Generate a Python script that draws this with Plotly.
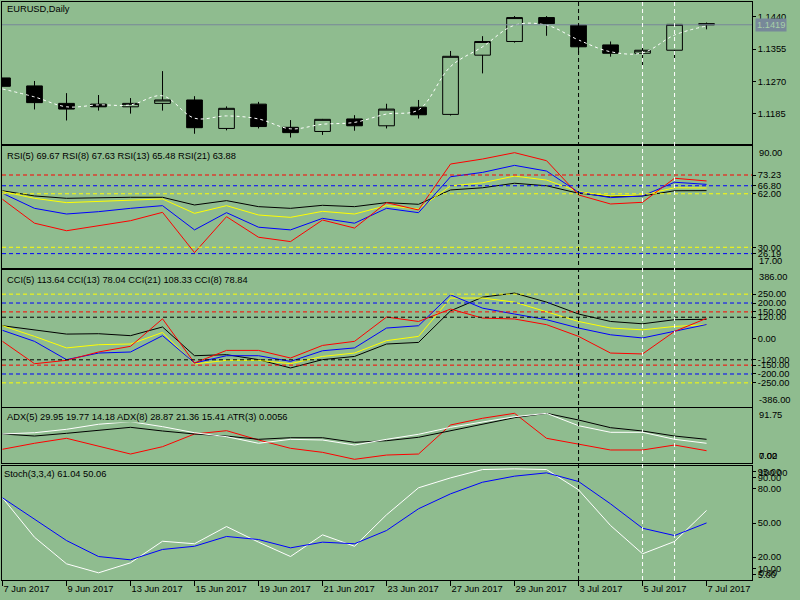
import datetime as dt
import plotly.graph_objects as go
from plotly.subplots import make_subplots

BG = "#8FBC8F"
FONT = "Liberation Sans"

# daily bars
dates = ["2017-06-07", "2017-06-08", "2017-06-09", "2017-06-12", "2017-06-13", "2017-06-14",
         "2017-06-15", "2017-06-16", "2017-06-19", "2017-06-20", "2017-06-21", "2017-06-22",
         "2017-06-23", "2017-06-26", "2017-06-27", "2017-06-28", "2017-06-29", "2017-06-30",
         "2017-07-03", "2017-07-04", "2017-07-05", "2017-07-06", "2017-07-07"]

open_ = [1.1279, 1.1258, 1.1212, 1.1210, 1.1203, 1.1212, 1.1221, 1.1146, 1.1210, 1.1149, 1.1138, 1.1171,
         1.1153, 1.1202, 1.1183, 1.1339, 1.1375, 1.1438, 1.1418, 1.1366, 1.1344, 1.1352, 1.1422]
high = [1.1279, 1.1271, 1.1239, 1.1234, 1.1226, 1.1297, 1.1231, 1.1204, 1.1216, 1.1168, 1.1171, 1.1181,
        1.1211, 1.1221, 1.1350, 1.1389, 1.1442, 1.1442, 1.1419, 1.1375, 1.1367, 1.1423, 1.1425]
low = [1.1257, 1.1196, 1.1167, 1.1193, 1.1185, 1.1193, 1.1132, 1.1141, 1.1146, 1.1122, 1.1129, 1.1140,
       1.1146, 1.1172, 1.1180, 1.1291, 1.1372, 1.1390, 1.1344, 1.1335, 1.1311, 1.1326, 1.1407]
close = [1.1257, 1.1214, 1.1197, 1.1203, 1.1212, 1.1221, 1.1148, 1.1199, 1.1151, 1.1135, 1.1170, 1.1153,
         1.1197, 1.1182, 1.1336, 1.1375, 1.1438, 1.1422, 1.1361, 1.1344, 1.1352, 1.1420, 1.1419]
ma = [1.1250, 1.1229, 1.1203, 1.1208, 1.1208, 1.1232, 1.1173, 1.1179, 1.1171, 1.1145, 1.1157, 1.1162,
      1.1184, 1.1195, 1.1309, 1.1361, 1.1418, 1.1418, 1.1379, 1.1348, 1.1345, 1.1392, 1.1416]
last_price = 1.1419

# RSI
rsi5 = [58.7, 44.4, 39.9, 42.7, 45.9, 50.9, 26.8, 48.3, 36.0, 33.4, 46.3, 41.5,
        56.7, 52.3, 79.8, 82.8, 86.6, 81.8, 61.3, 55.9, 56.9, 71.3, 69.67]
rsi8 = [62.3, 53.3, 49.9, 51.3, 53.3, 54.9, 40.4, 50.7, 42.0, 40.4, 47.3, 44.4,
        53.3, 50.7, 72.2, 74.8, 79.0, 75.6, 62.9, 59.7, 60.7, 68.9, 67.63]
rsi13 = [63.3, 59.3, 56.7, 57.5, 58.3, 58.9, 50.3, 54.9, 49.3, 47.9, 51.5, 49.9,
         54.9, 52.9, 66.7, 68.6, 72.6, 70.2, 63.3, 60.7, 61.3, 65.6, 65.48]
rsi21 = [63.8, 60.7, 59.3, 59.7, 59.9, 59.9, 55.3, 57.9, 54.3, 53.3, 55.1, 54.3,
         56.7, 55.7, 64.3, 65.6, 68.3, 66.8, 62.3, 60.3, 60.7, 63.8, 63.88]
rsi_levels = [(73.23, "red"), (66.80, "blue"), (62.00, "yellow"), (30.00, "yellow"), (26.19, "blue")]

# CCI
cci5 = [-16, -142, -123, -76, -44, 111, -138, -67, -67, -110, -39, -16,
        121, 96, 166, 115, 110, 78, 12, -82, -87, 40, 113.64]
cci8 = [46, -16, -119, -82, -76, 16, -138, -97, -97, -129, -69, -53,
        59, 72, 246, 171, 138, 106, 59, 21, 3, 40, 78.84]
cci13 = [72, 12, -53, -35, -31, 34, -143, -123, -123, -142, -101, -82,
         -12, 12, 228, 228, 205, 152, 96, 59, 49, 68, 78.04]
cci21 = [72, 49, 25, 27, 16, 65, -97, -91, -119, -166, -119, -101,
         -31, -22, 156, 233, 256, 205, 138, 96, 83, 106, 108.33]
cci_levels = [(250, "yellow"), (200, "blue"), (150, "red"), (120, "black"),
              (-120, "black"), (-150, "red"), (-200, "blue"), (-250, "yellow")]

# ADX / ATR
adx_black = [48.4, 45.0, 49.5, 53.9, 59.5, 53.4, 48.4, 45.0, 39.5, 42.2, 42.2, 34.5,
             37.2, 42.9, 53.9, 65.1, 75.6, 82.9, 71.7, 58.9, 53.4, 45.0, 39.5]
adx_white = [48.4, 50.5, 56.2, 64.6, 68.9, 60.6, 50.5, 43.9, 32.9, 39.5, 38.4, 30.0,
             39.5, 47.9, 59.5, 68.9, 77.2, 82.9, 62.2, 51.2, 51.2, 39.5, 32.9]
adx_red = [22.9, 32.9, 41.2, 28.4, 15.0, 27.2, 48.4, 53.9, 38.4, 24.5, 17.8, 6.2,
           13.3, 15.0, 63.4, 74.6, 82.9, 41.2, 31.2, 21.7, 21.7, 30.0, 20.5]

# Stochastic
stoch_k = [72.1, 37.5, 14.2, 6.3, 15.1, 34.0, 31.8, 46.9, 33.2, 20.6, 39.6, 29.6,
           57.2, 80.9, 89.6, 96.9, 97.5, 96.9, 79.1, 47.8, 23.0, 33.8, 61.04]
stoch_d = [72.1, 53.7, 34.6, 20.6, 17.7, 26.8, 29.6, 38.2, 35.5, 28.2, 33.2, 31.8,
           43.4, 62.5, 75.6, 85.8, 91.1, 94.0, 86.4, 66.8, 45.4, 39.0, 50.06]
stoch_levels = [95, 90, 80, 50, 20, 10, 5]

black_marks = ["2017-07-03"]
white_marks = ["2017-07-05", "2017-07-06"]

tick_days = dates[::2]
tick_text = [f"{d.day} {d:%b %Y}" for d in (dt.date.fromisoformat(s) for s in tick_days)]

fig = make_subplots(rows=5, cols=1, shared_xaxes=True, vertical_spacing=0.0)

# price panel
fig.add_trace(go.Candlestick(
    x=dates, open=open_, high=high, low=low, close=close,
    increasing=dict(line=dict(color="black", width=1), fillcolor=BG),
    decreasing=dict(line=dict(color="black", width=1), fillcolor="black"),
    whiskerwidth=0, hoverinfo="skip"), row=1, col=1)
fig.add_trace(go.Scatter(x=dates, y=ma, mode="lines",
                         line=dict(color="white", width=1, dash="3px,3px", shape="spline")), row=1, col=1)
fig.add_hline(y=last_price, row=1, col=1, line=dict(color="#778899", width=1))

# RSI panel
for vals, c in [(rsi21, "black"), (rsi13, "yellow"), (rsi8, "blue"), (rsi5, "red")]:
    fig.add_trace(go.Scatter(x=dates, y=vals, mode="lines", line=dict(color=c, width=1)), row=2, col=1)
for lv, c in rsi_levels:
    fig.add_hline(y=lv, row=2, col=1, line=dict(color=c, width=1, dash="4px,3px"))

# CCI panel
for vals, c in [(cci21, "black"), (cci13, "yellow"), (cci8, "blue"), (cci5, "red")]:
    fig.add_trace(go.Scatter(x=dates, y=vals, mode="lines", line=dict(color=c, width=1)), row=3, col=1)
for lv, c in cci_levels:
    fig.add_hline(y=lv, row=3, col=1, line=dict(color=c, width=1, dash="4px,3px"))

# ADX panel
for vals, c in [(adx_red, "red"), (adx_black, "black"), (adx_white, "white")]:
    fig.add_trace(go.Scatter(x=dates, y=vals, mode="lines", line=dict(color=c, width=1)), row=4, col=1)

# Stochastic panel
for lv in stoch_levels:
    fig.add_hline(y=lv, row=5, col=1, line=dict(color="#006400", width=1, dash="4px,3px"))
fig.add_trace(go.Scatter(x=dates, y=stoch_k, mode="lines", line=dict(color="white", width=1)), row=5, col=1)
fig.add_trace(go.Scatter(x=dates, y=stoch_d, mode="lines", line=dict(color="blue", width=1)), row=5, col=1)

# vertical markers through all panels
for d in black_marks:
    fig.add_shape(type="line", xref="x", yref="paper", x0=d, x1=d, y0=0, y1=1,
                  line=dict(color="black", width=1, dash="4px,3px"))
for d in white_marks:
    fig.add_shape(type="line", xref="x", yref="paper", x0=d, x1=d, y0=0, y1=1,
                  line=dict(color="white", width=1, dash="4px,3px"))

domains = [[0.7543, 1.0], [0.5398, 0.7509], [0.2993, 0.5363], [0.2024, 0.2976], [0.0, 0.1972]]
ranges = [[1.1105, 1.1479], [17.6, 90.6], [-386, 386], [0, 91.75], [0, 100]]
ticks = [
    ([1.1440, 1.1355, 1.1270, 1.1185], "{:.4f}"),
    ([lv for lv, _ in rsi_levels], "{:.2f}"),
    ([lv for lv, _ in cci_levels] + [0], "{:.2f}"),
    ([], "{:.2f}"),
    (stoch_levels, "{:.2f}"),
]
axis_font = dict(family=FONT, size=9.3, color="black")
for i in range(5):
    tv, fmt = ticks[i]
    fig.update_yaxes(row=i + 1, col=1, domain=domains[i], range=ranges[i], side="right",
                     showgrid=False, zeroline=False, showline=True, mirror=True,
                     linecolor="black", linewidth=1, ticks="outside", ticklen=3,
                     tickcolor="black", tickvals=tv, ticktext=[fmt.format(v) for v in tv],
                     tickfont=axis_font)
    fig.update_xaxes(row=i + 1, col=1, type="category", range=[-0.016, 23.42],
                     showgrid=False, zeroline=False, showline=True, mirror=True,
                     linecolor="black", linewidth=1, rangeslider_visible=False,
                     showticklabels=False, ticks="")
fig.update_xaxes(row=5, col=1, showticklabels=True, ticks="outside", ticklen=5,
                 tickcolor="black", tickvals=tick_days, ticktext=tick_text,
                 ticklabelposition="outside right", tickfont=axis_font)

# indicator captions
captions = [
    ("EURUSD,Daily", "y domain", -7, 4),
    ("RSI(5) 69.67 RSI(8) 67.63 RSI(13) 65.48 RSI(21) 63.88", "y2 domain", -10, 4),
    ("CCI(5) 113.64 CCI(13) 78.04 CCI(21) 108.33 CCI(8) 78.84", "y3 domain", -10, 4),
    ("ADX(5) 29.95 19.77 14.18 ADX(8) 28.87 21.36 15.41 ATR(3) 0.0056", "y4 domain", -9, 4),
    ("Stoch(3,3,4) 61.04 50.06", "y5 domain", -8, 1),
]
for txt, yr, ys, xs in captions:
    fig.add_annotation(text=txt, xref="paper", x=0, xanchor="left", xshift=xs,
                       yref=yr, y=1, yanchor="middle", yshift=ys, showarrow=False,
                       font=dict(family=FONT, size=9.3, color="black"), bgcolor=BG, borderpad=0)

# scale min / max labels drawn inside the panel edges
edge_labels = [
    ("90.00", "y2 domain", 1, "top"), ("17.00", "y2 domain", 0, "bottom"),
    ("386.00", "y3 domain", 1, "top"), ("-386.00", "y3 domain", 0, "bottom"),
    ("91.75", "y4 domain", 1, "top"), ("7.02", "y4 domain", 0, "bottom"),
    ("0.00", "y4 domain", 0, "bottom"),
    ("100.00", "y5 domain", 1, "top"), ("0.00", "y5 domain", 0, "bottom"),
]
for txt, yr, yv, ya in edge_labels:
    fig.add_annotation(text=txt, xref="paper", x=1, xanchor="left", xshift=5,
                       yref=yr, y=yv, yanchor=ya, showarrow=False, font=axis_font)

# current price tag
fig.add_annotation(text=f"{last_price:.4f}", xref="paper", x=1, xanchor="left", xshift=3,
                   yref="y", y=last_price, yanchor="middle", showarrow=False,
                   font=dict(family=FONT, size=9.3, color="#A8D0A8"), bgcolor="#778899", borderpad=1)

fig.update_layout(
    width=800, height=600,
    margin=dict(l=2, r=48, t=2, b=20),
    paper_bgcolor=BG, plot_bgcolor=BG,
    showlegend=False,
    font=dict(family=FONT, size=9.3, color="black"),
)

fig.write_html("out.html", config={"displayModeBar": False},
               post_script="document.body.style.margin='0';document.body.style.overflow='hidden';")
